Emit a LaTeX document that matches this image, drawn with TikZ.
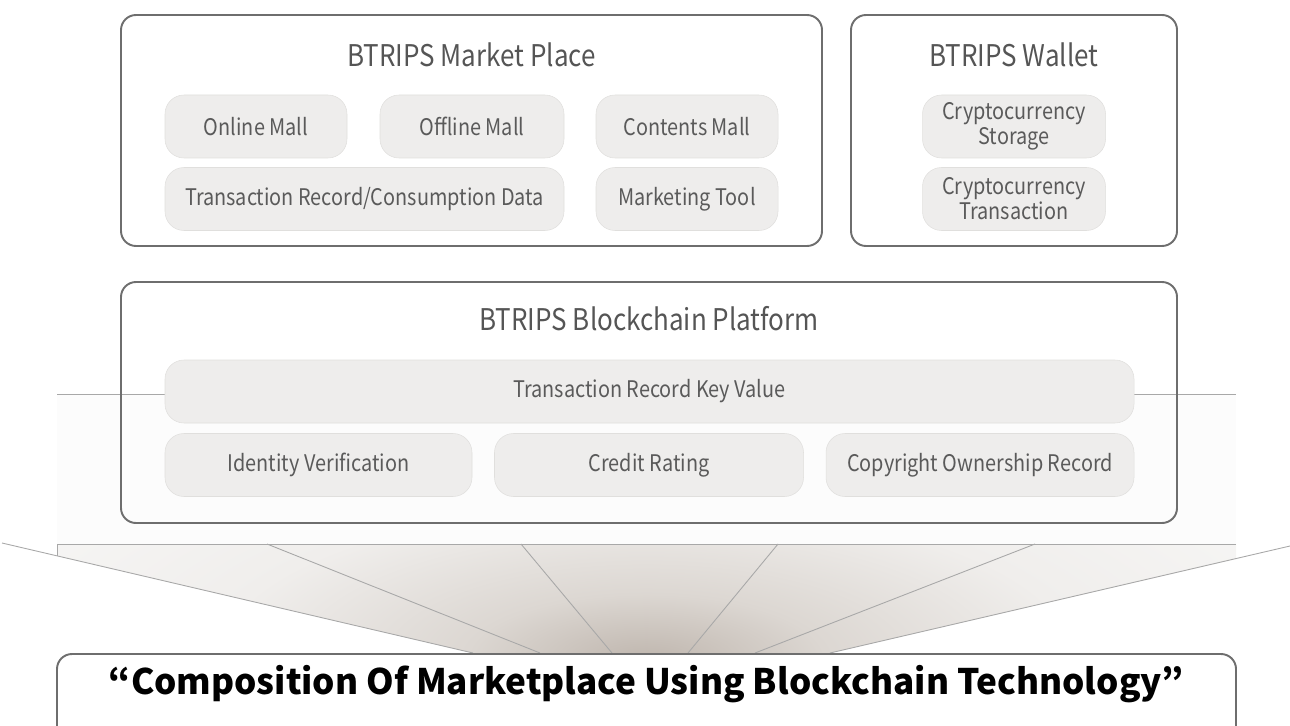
\documentclass[tikz,border=0pt]{standalone}
\usepackage{fontspec}
\setmainfont{Noto Sans CJK KR}[FakeStretch=0.87]
\newfontfamily\captionfont{Noto Sans CJK KR}
\usepackage{xcolor}
\usepackage{tikz}

\definecolor{boxline}{HTML}{6E6E6E}
\definecolor{cellfill}{HTML}{EEEDEC}
\definecolor{cellline}{HTML}{E0DFDD}
\definecolor{celltext}{HTML}{5A5A5A}
\definecolor{headtext}{HTML}{555555}
\definecolor{keyline}{HTML}{A8A8A8}
\definecolor{bandfill}{HTML}{FCFCFC}
\definecolor{fandark}{HTML}{BFB6AE}
\definecolor{fanmid}{HTML}{DCD7D2}
\definecolor{fanlight}{HTML}{F0EEEC}
\definecolor{fanpale}{HTML}{F8F8F7}
\definecolor{fanedge}{HTML}{A8A8A8}

\pgfdeclareradialshading{fanglow}{\pgfpoint{0bp}{0bp}}{color(0bp)=(fandark);
    color(5bp)=(fanmid); color(12bp)=(fanlight); color(22bp)=(fanpale); color(36bp)=(white);
    color(50bp)=(white)}

\newcommand{\px}{0.02cm}

\begin{document}
\begin{tikzpicture}[x=0.02cm, y=-0.02cm,
    frame/.style={draw=boxline, line width=1.1pt, rounded corners=0.3cm, inner sep=0pt},
    cell/.style={fill=cellfill, draw=cellline, line width=0.3pt, rounded corners=0.38cm,
        text=celltext, font=\fontsize{13}{14.2}\selectfont, align=center,
        minimum height=63*\px, inner sep=0pt},
    heading/.style={text=headtext, font=\fontsize{17}{20}\selectfont, anchor=base},
    fanstroke/.style={draw=fanedge, line width=0.5pt}]
\useasboundingbox (0,0) rectangle (1290,726);

% band behind the platform
\fill[bandfill] (57,394) rectangle (1236,544);
\draw[keyline, line width=0.5pt] (57,394) -- (1236,394);

% fan
\begin{scope}
    \clip (57,544) -- (1236,544) -- (1236,559) -- (830,653) -- (473,653) -- (57,556) -- cycle;
    \shade[shading=fanglow] (646,660) ellipse (900 and 330);
\end{scope}
\draw[fanstroke] (57,544) -- (1236,544);
\draw[fanstroke] (57,544) -- (57,556);
\foreach \xa/\ya/\xb/\yb in {2/543/473/653, 267/544/540/653, 521/544/612/653,
    778/544/688/653, 1035/544/755/653, 1290/546/830/653}
    \draw[fanstroke] (\xa,\ya) -- (\xb,\yb);

% Market Place
\node[frame, minimum width=701*\px, minimum height=231*\px] (market) at (471.5,130.5) {};
\node[heading] (markettitle) at (471.5,67) {BTRIPS Market Place};
\node[cell, minimum width=182*\px] (online) at (256,126.5) {Online Mall};
\node[cell, minimum width=184*\px] (offline) at (472,126.5) {Offline Mall};
\node[cell, minimum width=182*\px] (contents) at (687,126.5) {Contents Mall};
\node[cell, minimum width=399*\px] (consume) at (364.5,199) {Transaction Record/Consumption Data};
\node[cell, minimum width=182*\px] (marketing) at (687,199) {Marketing Tool};

% Wallet
\node[frame, minimum width=326*\px, minimum height=231*\px] (wallet) at (1014,130.5) {};
\node[heading] (wallettitle) at (1014,67) {BTRIPS Wallet};
\node[cell, minimum width=183*\px] (storage) at (1014,126.5) {Cryptocurrency\\Storage};
\node[cell, minimum width=183*\px] (cryptotx) at (1014,199) {Cryptocurrency\\Transaction};

% Blockchain Platform
\node[frame, minimum width=1056*\px, minimum height=241*\px] (platform) at (649,402.5) {};
\node[heading] (platformtitle) at (649,330) {BTRIPS Blockchain Platform};
\node[cell, minimum width=969*\px] (keyvalue) at (649.5,391.5) {Transaction Record Key Value};
\node[cell, minimum width=307*\px] (identity) at (318.5,465) {Identity Verification};
\node[cell, minimum width=309*\px] (credit) at (649,465) {Credit Rating};
\node[cell, minimum width=308*\px] (copyright) at (980,465) {Copyright Ownership Record};

% bottom caption
\node[frame, minimum width=1179*\px, minimum height=110*\px] (caption) at (646.5,709) {};
\node[anchor=base, font=\captionfont\bfseries\fontsize{20}{24}\selectfont] (captiontext) at (646.5,694)
    {“Composition Of Marketplace Using Blockchain Technology”};
\end{tikzpicture}
\end{document}
